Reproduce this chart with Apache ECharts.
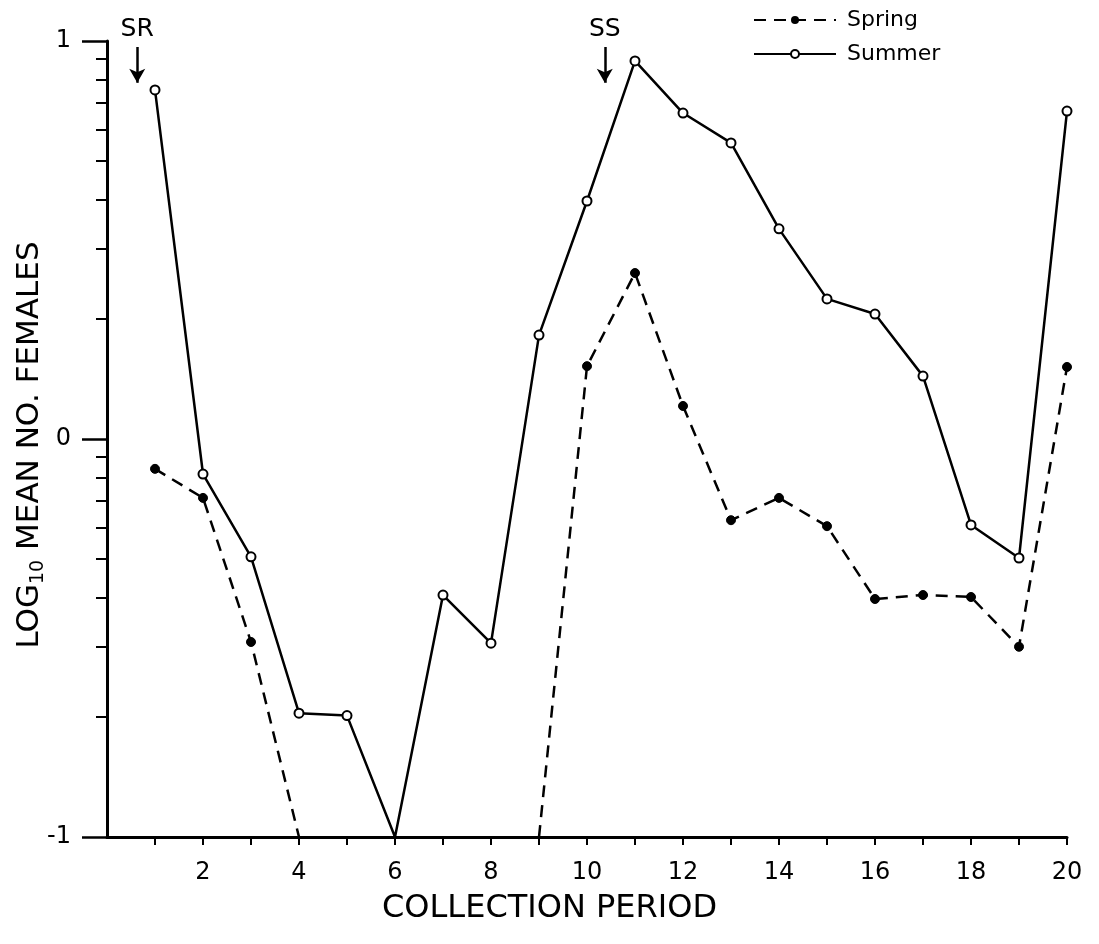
<!DOCTYPE html>
<html>
<head>
<meta charset="utf-8">
<script src="https://cdn.jsdelivr.net/npm/echarts@6/dist/echarts.min.js"></script>
<style>
html,body{margin:0;padding:0;background:#fff;}
#chart{width:1099px;height:944px;}
</style>
</head>
<body>
<div id="chart"></div>
<script>
// ---- data (log10 mean number of females) ----
const periods = [1,2,3,4,5,6,7,8,9,10,11,12,13,14,15,16,17,18,19,20];
const springValues = [-0.075,-0.148,-0.510,-1,null,null,null,null,-1,0.183,0.417,0.083,-0.204,-0.148,-0.219,-0.402,-0.392,-0.397,-0.522,0.181];
const summerValues = [0.877,-0.088,-0.296,-0.689,-0.695,-1,-0.392,-0.513,0.261,0.598,0.950,0.819,0.744,0.528,0.352,0.314,0.158,-0.216,-0.299,0.824];
const xLabelTicks = [2,4,6,8,10,12,14,16,18,20];
const xMinorTicks = [1,2,3,4,5,6,7,8,9,10,11,12,13,14,15,16,17,18,19,20];
const yMajorTicks = [-1,0,1];
const logFactors = [2,3,4,5,6,7,8,9];
const arrowLabels = ['SR','SS'];
const arrowX = [0.63, 10.37];
const arrowTop = 0.985;
const arrowTip = 0.895;

const yMinorTicks = [];
[-1,0].forEach(function(d){ logFactors.forEach(function(k){ yMinorTicks.push(d + Math.log10(k)); }); });

function toPoints(vals){
  return periods.map(function(p,i){
    const v = vals[i];
    if (v === null) return [p, null];
    if (v <= -1) return {value:[p, v], symbol:'none'};
    return [p, v];
  });
}

const FONT = 'DejaVu Sans';
const chart = echarts.init(document.getElementById('chart'), null, {renderer:'canvas'});
chart.setOption({
  animation:false,
  backgroundColor:'#fff',
  grid:{left:107, right:32, top:41, bottom:107, containLabel:false, outerBoundsMode:'none'},
  legend:{
    data:['Spring','Summer'], orient:'vertical', left:748, top:4,
    itemWidth:82, itemHeight:10, itemGap:12,
    textStyle:{fontFamily:FONT, fontSize:22, color:'#000', padding:[0,0,0,6]}
  },
  xAxis:{
    type:'value', min:0, max:20, interval:2,
    axisLine:{show:true, onZero:false, lineStyle:{color:'#000', width:3}},
    axisTick:{show:true, customValues:xMinorTicks, length:8, lineStyle:{color:'#000', width:2}},
    axisLabel:{customValues:xLabelTicks, margin:24, fontFamily:FONT, fontSize:24, color:'#000'},
    splitLine:{show:false}
  },
  yAxis:[{
    type:'value', min:-1, max:1, interval:1,
    axisLine:{show:true, onZero:false, lineStyle:{color:'#000', width:3}},
    axisTick:{show:true, customValues:yMajorTicks, length:25, lineStyle:{color:'#000', width:2.5}},
    axisLabel:{customValues:yMajorTicks, margin:36, fontFamily:FONT, fontSize:24, color:'#000'},
    splitLine:{show:false}
  },{
    type:'value', min:-1, max:1, position:'left',
    axisLine:{show:false},
    axisTick:{show:true, customValues:yMinorTicks, length:11, lineStyle:{color:'#000', width:2}},
    axisLabel:{show:false},
    splitLine:{show:false}
  }],
  series:[{
    name:'Spring', type:'line', yAxisIndex:0, connectNulls:false,
    data:toPoints(springValues),
    symbol:'circle', symbolSize:9,
    itemStyle:{color:'#000', borderColor:'#000'},
    lineStyle:{color:'#000', width:2.5, type:[12,8]},
    z:3
  },{
    name:'Summer', type:'line', yAxisIndex:0,
    data:toPoints(summerValues),
    symbol:'circle', symbolSize:9,
    itemStyle:{color:'#fff', borderColor:'#000', borderWidth:2},
    lineStyle:{color:'#000', width:2.5, type:'solid'},
    z:4,
    markLine:{
      silent:true, animation:false,
      symbol:['none','arrow'], symbolSize:[12,14],
      lineStyle:{color:'#000', width:2.5, type:'solid'},
      label:{show:true, position:'start', formatter:'{b}', distance:5, fontFamily:FONT, fontSize:25, color:'#000'},
      data: arrowLabels.map(function(n,i){
        return [{name:n, coord:[arrowX[i], arrowTop]}, {coord:[arrowX[i], arrowTip]}];
      })
    }
  }],
  graphic:[{
    type:'text', x:30, y:445, rotation:Math.PI/2,
    style:{text:'LOG{sub|10} MEAN NO. FEMALES', fontFamily:FONT, fontSize:31, fill:'#000',
      align:'center', verticalAlign:'middle',
      rich:{sub:{fontFamily:FONT, fontSize:19, fill:'#000', padding:[16,0,0,0]}}}
  },{
    type:'text', left:'center', top:893,
    style:{text:'COLLECTION PERIOD', fontFamily:FONT, fontSize:32, fill:'#000', align:'center'},
    x:-40
  }]
});
</script>
</body>
</html>
